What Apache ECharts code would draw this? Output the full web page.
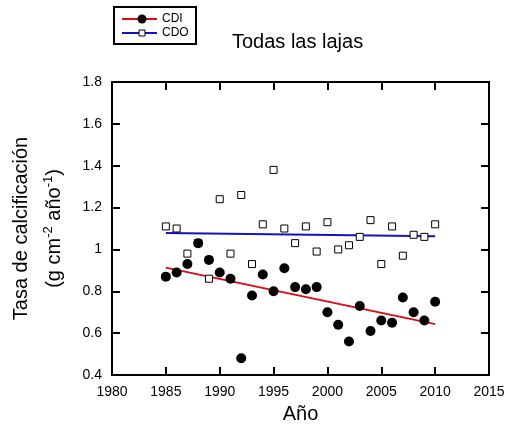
<!DOCTYPE html>
<html>
<head>
<meta charset="utf-8">
<script src="https://cdn.jsdelivr.net/npm/echarts@6/dist/echarts.min.js"></script>
<style>
html,body{margin:0;padding:0;background:#fff;}
#chart{width:511px;height:429px;}
</style>
</head>
<body>
<div id="chart"></div>
<script>
// Data
var years = [1985,1986,1987,1988,1989,1990,1991,1992,1993,1994,1995,1996,1997,1998,1999,2000,2001,2002,2003,2004,2005,2006,2007,2008,2009,2010];
var cdiValues = [0.87,0.89,0.93,1.03,0.95,0.89,0.86,0.48,0.78,0.88,0.80,0.91,0.82,0.81,0.82,0.70,0.64,0.56,0.73,0.61,0.66,0.65,0.77,0.70,0.66,0.75];
var cdoValues = [1.11,1.10,0.98,1.03,0.86,1.24,0.98,1.26,0.93,1.12,1.38,1.10,1.03,1.11,0.99,1.13,1.00,1.02,1.06,1.14,0.93,1.11,0.97,1.07,1.06,1.12];
var cdiFitYears = [1985, 2010];
var cdiFitValues = [0.913, 0.643];
var cdoFitYears = [1985, 2010];
var cdoFitValues = [1.078, 1.063];
var xTicks = {min: 1980, max: 2015, interval: 5};
var yTicks = {min: 0.4, max: 1.8, interval: 0.2};

function pairs(xs, ys){ return xs.map(function(x,i){ return [x, ys[i]]; }); }

var FONT = 'Liberation Sans';
var RED = '#dd0a14';
var BLUE = '#1212c4';
var chart = echarts.init(document.getElementById('chart'), null, {renderer:'canvas'});

var axisLineStyle = {lineStyle:{color:'#000', width:2}};
var tickStyle = {inside:true, length:8, lineStyle:{color:'#000', width:2}};

var option = {
  backgroundColor:'#fff',
  animation:false,
  textStyle:{fontFamily:FONT},
  title:{
    text:'Todas las lajas',
    left:232, top:32, padding:0,
    textStyle:{fontFamily:FONT, fontSize:20, fontWeight:'normal', color:'#000'}
  },
  grid:{left:112, right:22, top:82, bottom:52, containLabel:false},
  xAxis:[{
    type:'value', position:'bottom',
    min:xTicks.min, max:xTicks.max, interval:xTicks.interval,
    name:'Año', nameLocation:'middle', nameGap:29,
    nameTextStyle:{fontFamily:FONT, fontSize:20, color:'#000'},
    axisLine:axisLineStyle, axisTick:tickStyle,
    axisLabel:{fontFamily:FONT, fontSize:14, color:'#000', margin:10,
      formatter:function(v){ return String(Math.round(v)); }},
    splitLine:{show:false}
  },{
    type:'value', position:'top',
    min:xTicks.min, max:xTicks.max, interval:xTicks.interval,
    axisLine:axisLineStyle, axisTick:tickStyle,
    axisLabel:{show:false}, splitLine:{show:false}
  }],
  yAxis:[{
    type:'value', position:'left',
    min:yTicks.min, max:yTicks.max, interval:yTicks.interval,
    name:'{a|Tasa de calcificación}\n{b|(g cm}{s|-2}{b| año}{s|-1}{b|)}',
    nameLocation:'middle', nameRotate:90, nameGap:41,
    nameTextStyle:{
      fontFamily:FONT, color:'#000',
      rich:{
        a:{fontFamily:FONT, fontSize:20, lineHeight:33, color:'#000'},
        b:{fontFamily:FONT, fontSize:20, lineHeight:33, color:'#000'},
        s:{fontFamily:FONT, fontSize:13, lineHeight:13, verticalAlign:'top', padding:[4,0,0,0], color:'#000'}
      }
    },
    axisLine:axisLineStyle, axisTick:tickStyle,
    axisLabel:{fontFamily:FONT, fontSize:14, color:'#000', margin:10,
      formatter:function(v){ return String(Math.round(v*10)/10); }},
    splitLine:{show:false}
  },{
    type:'value', position:'right',
    min:yTicks.min, max:yTicks.max, interval:yTicks.interval,
    axisLine:axisLineStyle, axisTick:tickStyle,
    axisLabel:{show:false}, splitLine:{show:false}
  }],
  series:[
    {
      name:'CDI fit', type:'line', data:pairs(cdiFitYears, cdiFitValues),
      showSymbol:false, symbol:'none', lineStyle:{color:RED, width:2}, z:2, silent:true
    },
    {
      name:'CDO fit', type:'line', data:pairs(cdoFitYears, cdoFitValues),
      showSymbol:false, symbol:'none', lineStyle:{color:BLUE, width:2}, z:2, silent:true
    },
    {
      name:'CDO', type:'scatter', data:pairs(years, cdoValues),
      symbol:'rect', symbolSize:7,
      itemStyle:{color:'#fff', borderColor:'#000', borderWidth:1, opacity:1}, z:3
    },
    {
      name:'CDI', type:'scatter', data:pairs(years, cdiValues),
      symbol:'circle', symbolSize:10,
      itemStyle:{color:'#000', opacity:1}, z:4
    }
  ],
  graphic:[
    {type:'rect', shape:{x:114, y:7, width:82, height:37}, style:{fill:'#fff', stroke:'#000', lineWidth:2}},
    {type:'line', shape:{x1:122, y1:19, x2:157, y2:19}, style:{stroke:RED, lineWidth:2}},
    {type:'circle', shape:{cx:142, cy:19, r:4.5}, style:{fill:'#000'}},
    {type:'text', x:162, y:19, style:{text:'CDI', fontFamily:FONT, fontSize:12, fill:'#000', verticalAlign:'middle'}},
    {type:'line', shape:{x1:122, y1:33, x2:157, y2:33}, style:{stroke:BLUE, lineWidth:2}},
    {type:'rect', shape:{x:139, y:30, width:6, height:6}, style:{fill:'#fff', stroke:'#000', lineWidth:1}},
    {type:'text', x:162, y:33, style:{text:'CDO', fontFamily:FONT, fontSize:12, fill:'#000', verticalAlign:'middle'}}
  ]
};
chart.setOption(option);
</script>
</body>
</html>
